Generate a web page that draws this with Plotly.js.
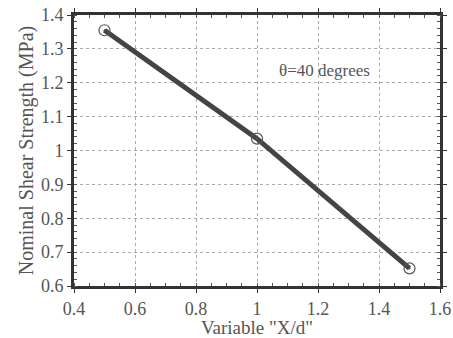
<!DOCTYPE html>
<html><head><meta charset="utf-8">
<script src="https://cdn.plot.ly/plotly-3.0.1.min.js"></script>
<style>body{margin:0;background:#fff}#c{width:453px;height:338px}</style>
</head><body><div id="c"></div>
<script>
const xVals = [0.5, 1.0, 1.5];
const yVals = [1.355, 1.035, 0.652];
const xTicks = [0.4, 0.6, 0.8, 1, 1.2, 1.4, 1.6];
const yTicks = [0.6, 0.7, 0.8, 0.9, 1, 1.1, 1.2, 1.3, 1.4];
const annText = "θ=40 degrees";
const annX = 1.22, annY = 1.235;

const fam = "Liberation Serif";
const font = {family: fam, color: "#555", size: 18};
const trace = {
  x: xVals, y: yVals, mode: "lines+markers", type: "scatter",
  line: {color: "#444", width: 5},
  marker: {symbol: "circle-open-dot", size: 11, color: "#555", line: {width: 1.2, color: "#555"}}
};
const axBase = {
  showline: true, mirror: "ticks", linecolor: "#333", linewidth: 3,
  ticks: "outside", ticklen: 4, tickcolor: "#333", tickwidth: 1,
  showgrid: true, gridcolor: "#aaa", griddash: "dot", gridwidth: 1,
  zeroline: false, tickfont: font, automargin: false
};
const layout = {
  width: 453, height: 338,
  margin: {l: 74, r: 13, t: 15, b: 52},
  paper_bgcolor: "#fff", plot_bgcolor: "#fff",
  font: font, showlegend: false,
  xaxis: Object.assign({}, axBase, {range: [0.4, 1.6], tickvals: xTicks, ticktext: xTicks.map(String),
    minor: {ticks: "inside", ticklen: 3, tickcolor: "#555", dtick: 0.05, showgrid: false},
    title: {text: 'Variable "X/d"', font: {family: fam, size: 19, color: "#555"}, standoff: 8}}),
  yaxis: Object.assign({}, axBase, {range: [0.6, 1.4], tickvals: yTicks, ticktext: yTicks.map(String),
    minor: {ticks: "inside", ticklen: 3, tickcolor: "#555", dtick: 0.02, showgrid: false},
    title: {text: "Nominal Shear Strength (MPa)", font: {family: fam, size: 20, color: "#555"}, standoff: 2}}),
  annotations: [{x: annX, y: annY, xref: "x", yref: "y", text: annText, showarrow: false,
    font: {family: fam, size: 17, color: "#555"}}]
};
Plotly.newPlot("c", [trace], layout, {displayModeBar: false, staticPlot: true});
</script></body></html>
